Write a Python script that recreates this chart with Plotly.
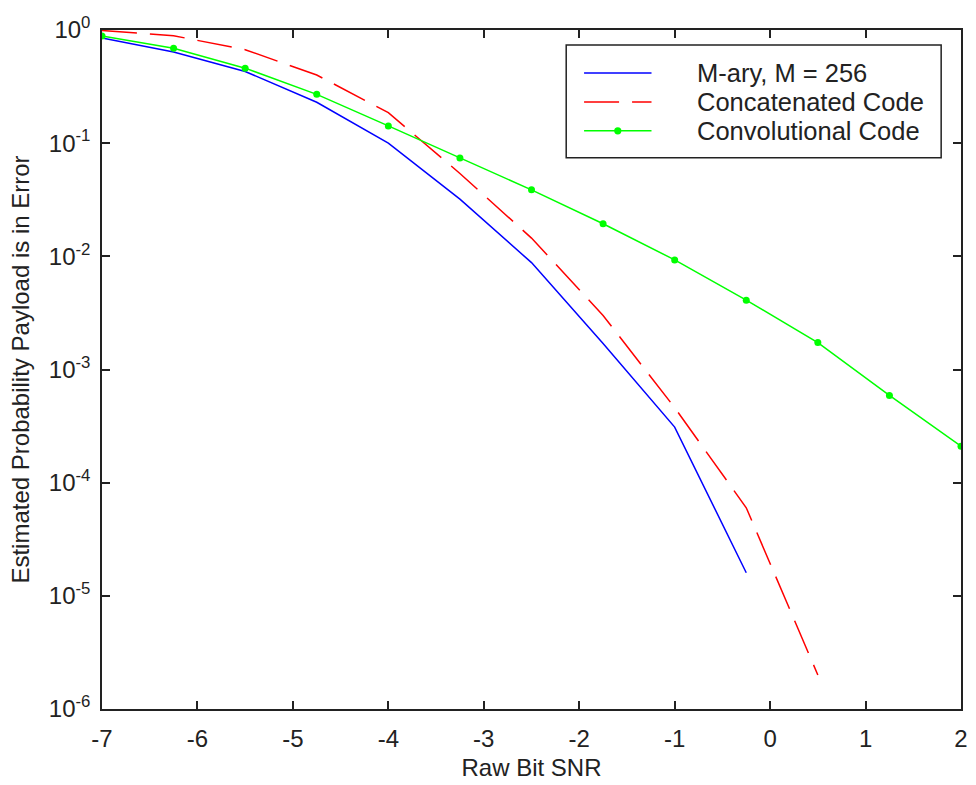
import plotly.graph_objects as go

# Raw bit SNR sample points (dB)
snr = [-7, -6.25, -5.5, -4.75, -4, -3.25, -2.5, -1.75, -1, -0.25, 0.5, 1.25, 2]

# Payload error probability for each scheme
mary_pe = [0.85, 0.64, 0.43, 0.23, 0.10, 0.032, 0.0088, 0.0017, 3.1e-4, 1.6e-5]
concat_pe = [0.99, 0.89, 0.67, 0.40, 0.186, 0.054, 0.0145, 0.0030, 4.6e-4, 6.0e-5, 2.0e-6]
conv_pe = [0.885, 0.69, 0.46, 0.27, 0.142, 0.074, 0.0387, 0.0194, 0.0093, 0.0041,
           0.00173, 0.00059, 0.00021]

series_names = ["M-ary, M = 256", "Concatenated Code", "Convolutional Code"]

x_ticks = [-7, -6, -5, -4, -3, -2, -1, 0, 1, 2]
y_exponents = [0, -1, -2, -3, -4, -5, -6]
y_tickvals = [10.0 ** e for e in y_exponents]
y_ticktext = [f"10<sup>{e}</sup>" for e in y_exponents]

FONT = "Arial, Liberation Sans, sans-serif"
INK = "#222222"
BLUE, RED, GREEN = "#0000ff", "#ff0000", "#00ff00"
DASH = "35px,13px"

fig = go.Figure()
fig.add_trace(go.Scatter(x=snr[:len(mary_pe)], y=mary_pe, mode="lines",
                         line=dict(color=BLUE, width=1.5), showlegend=False))
fig.add_trace(go.Scatter(x=snr[:len(concat_pe)], y=concat_pe, mode="lines",
                         line=dict(color=RED, width=1.5, dash=DASH), showlegend=False))
fig.add_trace(go.Scatter(x=snr, y=conv_pe, mode="lines+markers",
                         line=dict(color=GREEN, width=1.5),
                         marker=dict(color=GREEN, size=7), showlegend=False))

# Boxed legend in the upper right of the axes
box_x0, box_x1, box_y0, box_y1 = 0.5404, 0.9769, 0.8118, 0.978
sample_x0, sample_x1, text_x = 0.5612, 0.6397, 0.6905
row_y = [0.9368, 0.8941, 0.8515]
styles = [dict(color=BLUE, width=1.5), dict(color=RED, width=1.5, dash=DASH),
          dict(color=GREEN, width=1.5)]

fig.add_shape(type="rect", xref="paper", yref="paper",
              x0=box_x0, x1=box_x1, y0=box_y0, y1=box_y1,
              line=dict(color=INK, width=1.5), fillcolor="white", layer="above")
for name, yy, st in zip(series_names, row_y, styles):
    fig.add_shape(type="line", xref="paper", yref="paper",
                  x0=sample_x0, x1=sample_x1, y0=yy, y1=yy, line=st, layer="above")
    fig.add_annotation(xref="paper", yref="paper", x=text_x, y=yy, text=name,
                       showarrow=False, xanchor="left", yanchor="middle",
                       font=dict(family=FONT, size=25.5, color=INK))
dot_x = (sample_x0 + sample_x1) / 2
fig.add_shape(type="circle", xref="paper", yref="paper", layer="above",
              x0=dot_x - 0.0042, x1=dot_x + 0.0042,
              y0=row_y[2] - 0.0053, y1=row_y[2] + 0.0053,
              fillcolor=GREEN, line=dict(color=GREEN, width=0))

axis_common = dict(showline=True, linecolor=INK, linewidth=1.5, mirror="ticks",
                   ticks="inside", ticklen=8, tickwidth=1.5, tickcolor=INK,
                   showgrid=False, zeroline=False,
                   tickfont=dict(family=FONT, size=24, color=INK))

fig.update_xaxes(range=[-7, 2], tickvals=x_ticks, ticktext=[str(t) for t in x_ticks],
                 title=dict(text="Raw Bit SNR", font=dict(family=FONT, size=24, color=INK),
                            standoff=9),
                 ticklabelstandoff=7, **axis_common)
fig.update_yaxes(type="log", range=[-6, 0], tickvals=y_tickvals, ticktext=y_ticktext,
                 title=dict(text="Estimated Probability Payload is in Error",
                            font=dict(family=FONT, size=24, color=INK), standoff=12),
                 ticklabelstandoff=5, **axis_common)

fig.update_layout(width=976, height=785, margin=dict(l=102, r=8, t=30, b=75),
                  paper_bgcolor="white", plot_bgcolor="white",
                  font=dict(family=FONT, color=INK))

fig.write_html("out.html")
